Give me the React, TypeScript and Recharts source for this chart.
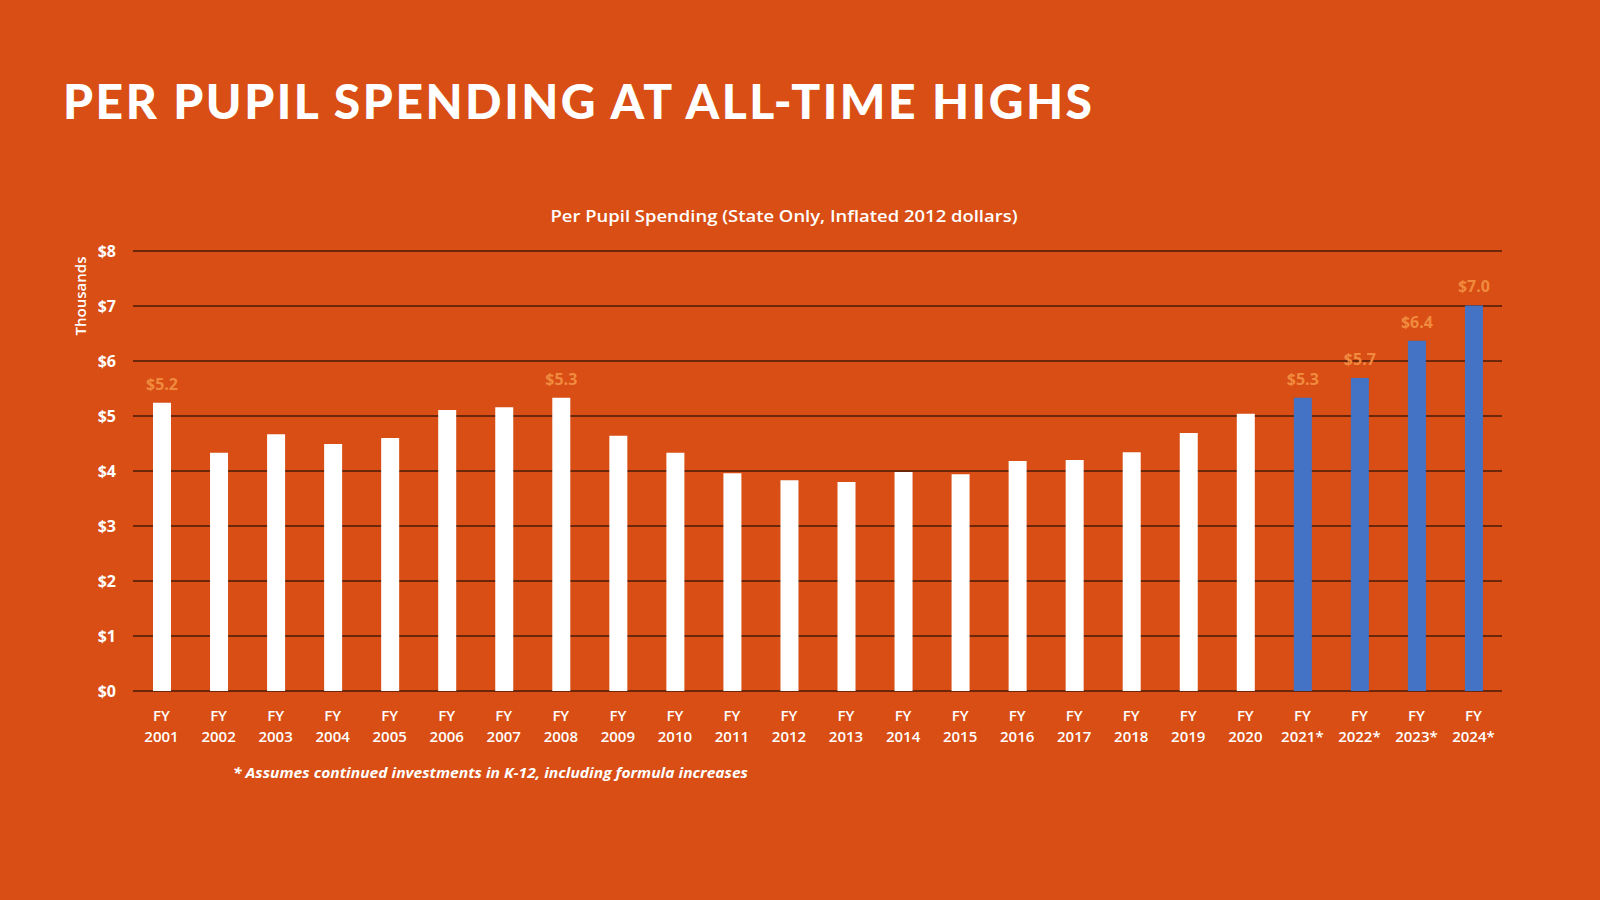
import React from "react";
import { BarChart, Bar, XAxis, YAxis, CartesianGrid, Cell, LabelList } from "recharts";

const years = ["2001","2002","2003","2004","2005","2006","2007","2008","2009","2010","2011","2012","2013","2014","2015","2016","2017","2018","2019","2020","2021*","2022*","2023*","2024*"];
const spending = [5.24,4.33,4.67,4.49,4.60,5.11,5.16,5.33,4.64,4.33,3.96,3.83,3.80,3.98,3.94,4.18,4.20,4.34,4.69,5.04,5.33,5.69,6.37,7.01];
const projected = [false,false,false,false,false,false,false,false,false,false,false,false,false,false,false,false,false,false,false,false,true,true,true,true];
const valueLabels = ["$5.2","","","","","","","$5.3","","","","","","","","","","","","","$5.3","$5.7","$6.4","$7.0"];
const yTicks = [0,1,2,3,4,5,6,7,8];

const BG = "#D84E14";
const LABEL = "#F08A3E";
const BLUE = "#4472C4";

if (typeof document !== "undefined") {
  document.body.style.margin = "0";
  document.body.style.background = BG;
}

const data = years.map((y, i) => ({ year: y, value: spending[i], label: valueLabels[i], projected: projected[i] }));

const XTick = (props: any) => {
  const { x, y, payload } = props;
  return (
    <g>
      <text x={x} y={y + 22} textAnchor="middle" fill="#fff" fontFamily="Open Sans" fontWeight={600} fontSize={15}>FY</text>
      <text x={x} y={y + 43} textAnchor="middle" fill="#fff" fontFamily="Open Sans" fontWeight={600} fontSize={15}>{payload.value}</text>
    </g>
  );
};

export default function App() {
  return (
    <div style={{ position: "fixed", left: 0, top: 0, width: 1600, height: 900, background: BG, overflow: "hidden" }}>
      <BarChart width={1600} height={900} data={data} margin={{ top: 251, right: 98, bottom: 179, left: 0 }}>
        <CartesianGrid vertical={false} stroke="#000" strokeWidth={1.2} />
        <YAxis
          width={133}
          domain={[0, 8]}
          ticks={yTicks}
          axisLine={false}
          tickLine={false}
          tickSize={6}
          tickMargin={11}
          tickFormatter={(v: number) => `$${v}`}
          tick={{ fill: "#fff", fontFamily: "Open Sans", fontWeight: 700, fontSize: 16 }}
        />
        <XAxis dataKey="year" height={30} axisLine={false} tickLine={false} interval={0} tick={<XTick />} />
        <Bar dataKey="value" barSize={18} isAnimationActive={false}>
          {data.map((d, i) => (
            <Cell key={i} fill={d.projected ? BLUE : "#ffffff"} />
          ))}
          <LabelList dataKey="label" position="top" offset={13} fill={LABEL} fontFamily="Open Sans" fontWeight={700} fontSize={16} />
        </Bar>
      </BarChart>
      <svg width={1600} height={900} style={{ position: "absolute", left: 0, top: 0, pointerEvents: "none" }}>
        <text x={63} y={119} fill="#fff" fontFamily="Lato" fontWeight={900} fontSize={48} textLength={1029} lengthAdjust="spacing">PER PUPIL SPENDING AT ALL-TIME HIGHS</text>
        <text x={784} y={222} textAnchor="middle" fill="#fff" fontFamily="Open Sans" fontWeight={600} fontSize={17} textLength={467} lengthAdjust="spacingAndGlyphs">Per Pupil Spending (State Only, Inflated 2012 dollars)</text>
        <text x={81} y={296} transform="rotate(-90 81 296)" dy={5} textAnchor="middle" fill="#fff" fontFamily="Open Sans" fontWeight={600} fontSize={14} textLength={79} lengthAdjust="spacingAndGlyphs">Thousands</text>
        <text x={233} y={778} fill="#fff" fontFamily="Open Sans" fontStyle="italic" fontWeight={700} fontSize={15} textLength={515} lengthAdjust="spacingAndGlyphs">* Assumes continued investments in K-12, including formula increases</text>
      </svg>
    </div>
  );
}
